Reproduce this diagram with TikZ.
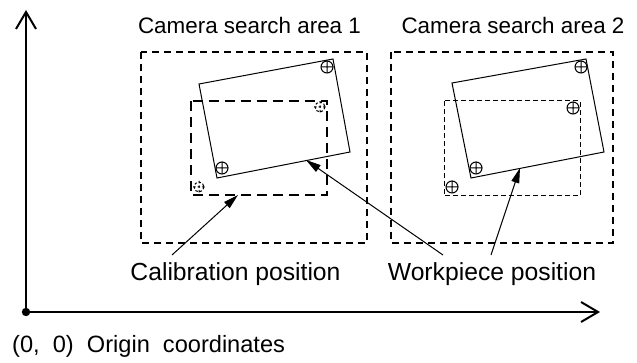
\documentclass[tikz,border=0pt]{standalone}
\usepackage{fontspec}
\setmainfont{Liberation Sans}
\usetikzlibrary{arrows.meta}
\tikzset{
  axisline/.style={line width=2pt,-{Straight Barb[length=17pt,width=20pt,line width=2pt]}},
  camarea/.style={line width=1.5pt,dash pattern=on 7pt off 5pt},
  calibthick/.style={line width=2.6pt,dash pattern=on 10pt off 6pt},
  calibthin/.style={line width=1pt,dash pattern=on 5pt off 3pt},
  workpiece/.style={line width=1pt},
  pointer/.style={line width=1pt,-{Triangle[length=15pt,width=8pt]}},
  toplabel/.style={anchor=base,inner sep=0pt,font=\fontsize{22.4}{26}\selectfont},
  botlabel/.style={anchor=base,inner sep=0pt,font=\fontsize{24.7}{28}\selectfont},
  crossmark/.pic={\draw[line width=1pt] (0,0) circle (6) (-6.5,0)--(6.5,0) (0,-6.5)--(0,6.5);},
  dashmark/.pic={\draw[line width=1pt,dash pattern=on 2.5pt off 2pt] (0,0) circle (5) (-6,0)--(6,0) (0,-6)--(0,6);}
}
\begin{document}
\begin{tikzpicture}[x=1pt,y=-1pt]
\useasboundingbox (0,0) rectangle (637,363);
% axes
\coordinate (O) at (26,312);
\coordinate (Ytip) at (26,10);
\coordinate (Xtip) at (600,312);
\draw[axisline] (O) -- (Ytip);
\draw[axisline] (O) -- (Xtip);
\fill (O) circle (4.2);
% camera search areas
\draw[camarea] (141,52) rectangle (367,243);
\draw[camarea] (391,52) rectangle (613,243);
\node[toplabel] (cam1) at (249.5,34) {Camera search area 1};
\node[toplabel] (cam2) at (513,34) {Camera search area 2};
% area 1
\draw[workpiece] (199,84) -- (333,59) -- (350,152) -- (217,178) -- cycle;
\draw[calibthick] (191,101) rectangle (327,195);
\pic at (222,168) {crossmark};
\pic at (327,67) {crossmark};
\pic at (320,107) {dashmark};
\pic at (199,187) {dashmark};
% area 2
\draw[workpiece] (452,83) -- (586,59) -- (604,152) -- (471,178) -- cycle;
\draw[calibthin] (444,101) rectangle (580,196);
\pic at (581,67) {crossmark};
\pic at (476,168) {crossmark};
\pic at (573,108) {crossmark};
\pic at (452,187) {crossmark};
% labels
\node[botlabel] (calib) at (235.5,280) {Calibration position};
\node[botlabel] (work) at (492,280) {Workpiece position};
\node[anchor=base west,inner sep=0pt,font=\fontsize{23.6}{27}\selectfont] (origin) at (12,352) {(0,\ \ 0)\ \ Origin\ \ coordinates};
% pointers
\coordinate (c1) at (172,255);
\coordinate (c1t) at (238,195);
\coordinate (w1) at (443,255);
\coordinate (w1t) at (306,160);
\coordinate (w2) at (491,255);
\coordinate (w2t) at (520,168);
\draw[pointer] (c1) -- (c1t);
\draw[pointer] (w1) -- (w1t);
\draw[pointer] (w2) -- (w2t);
\end{tikzpicture}
\end{document}
